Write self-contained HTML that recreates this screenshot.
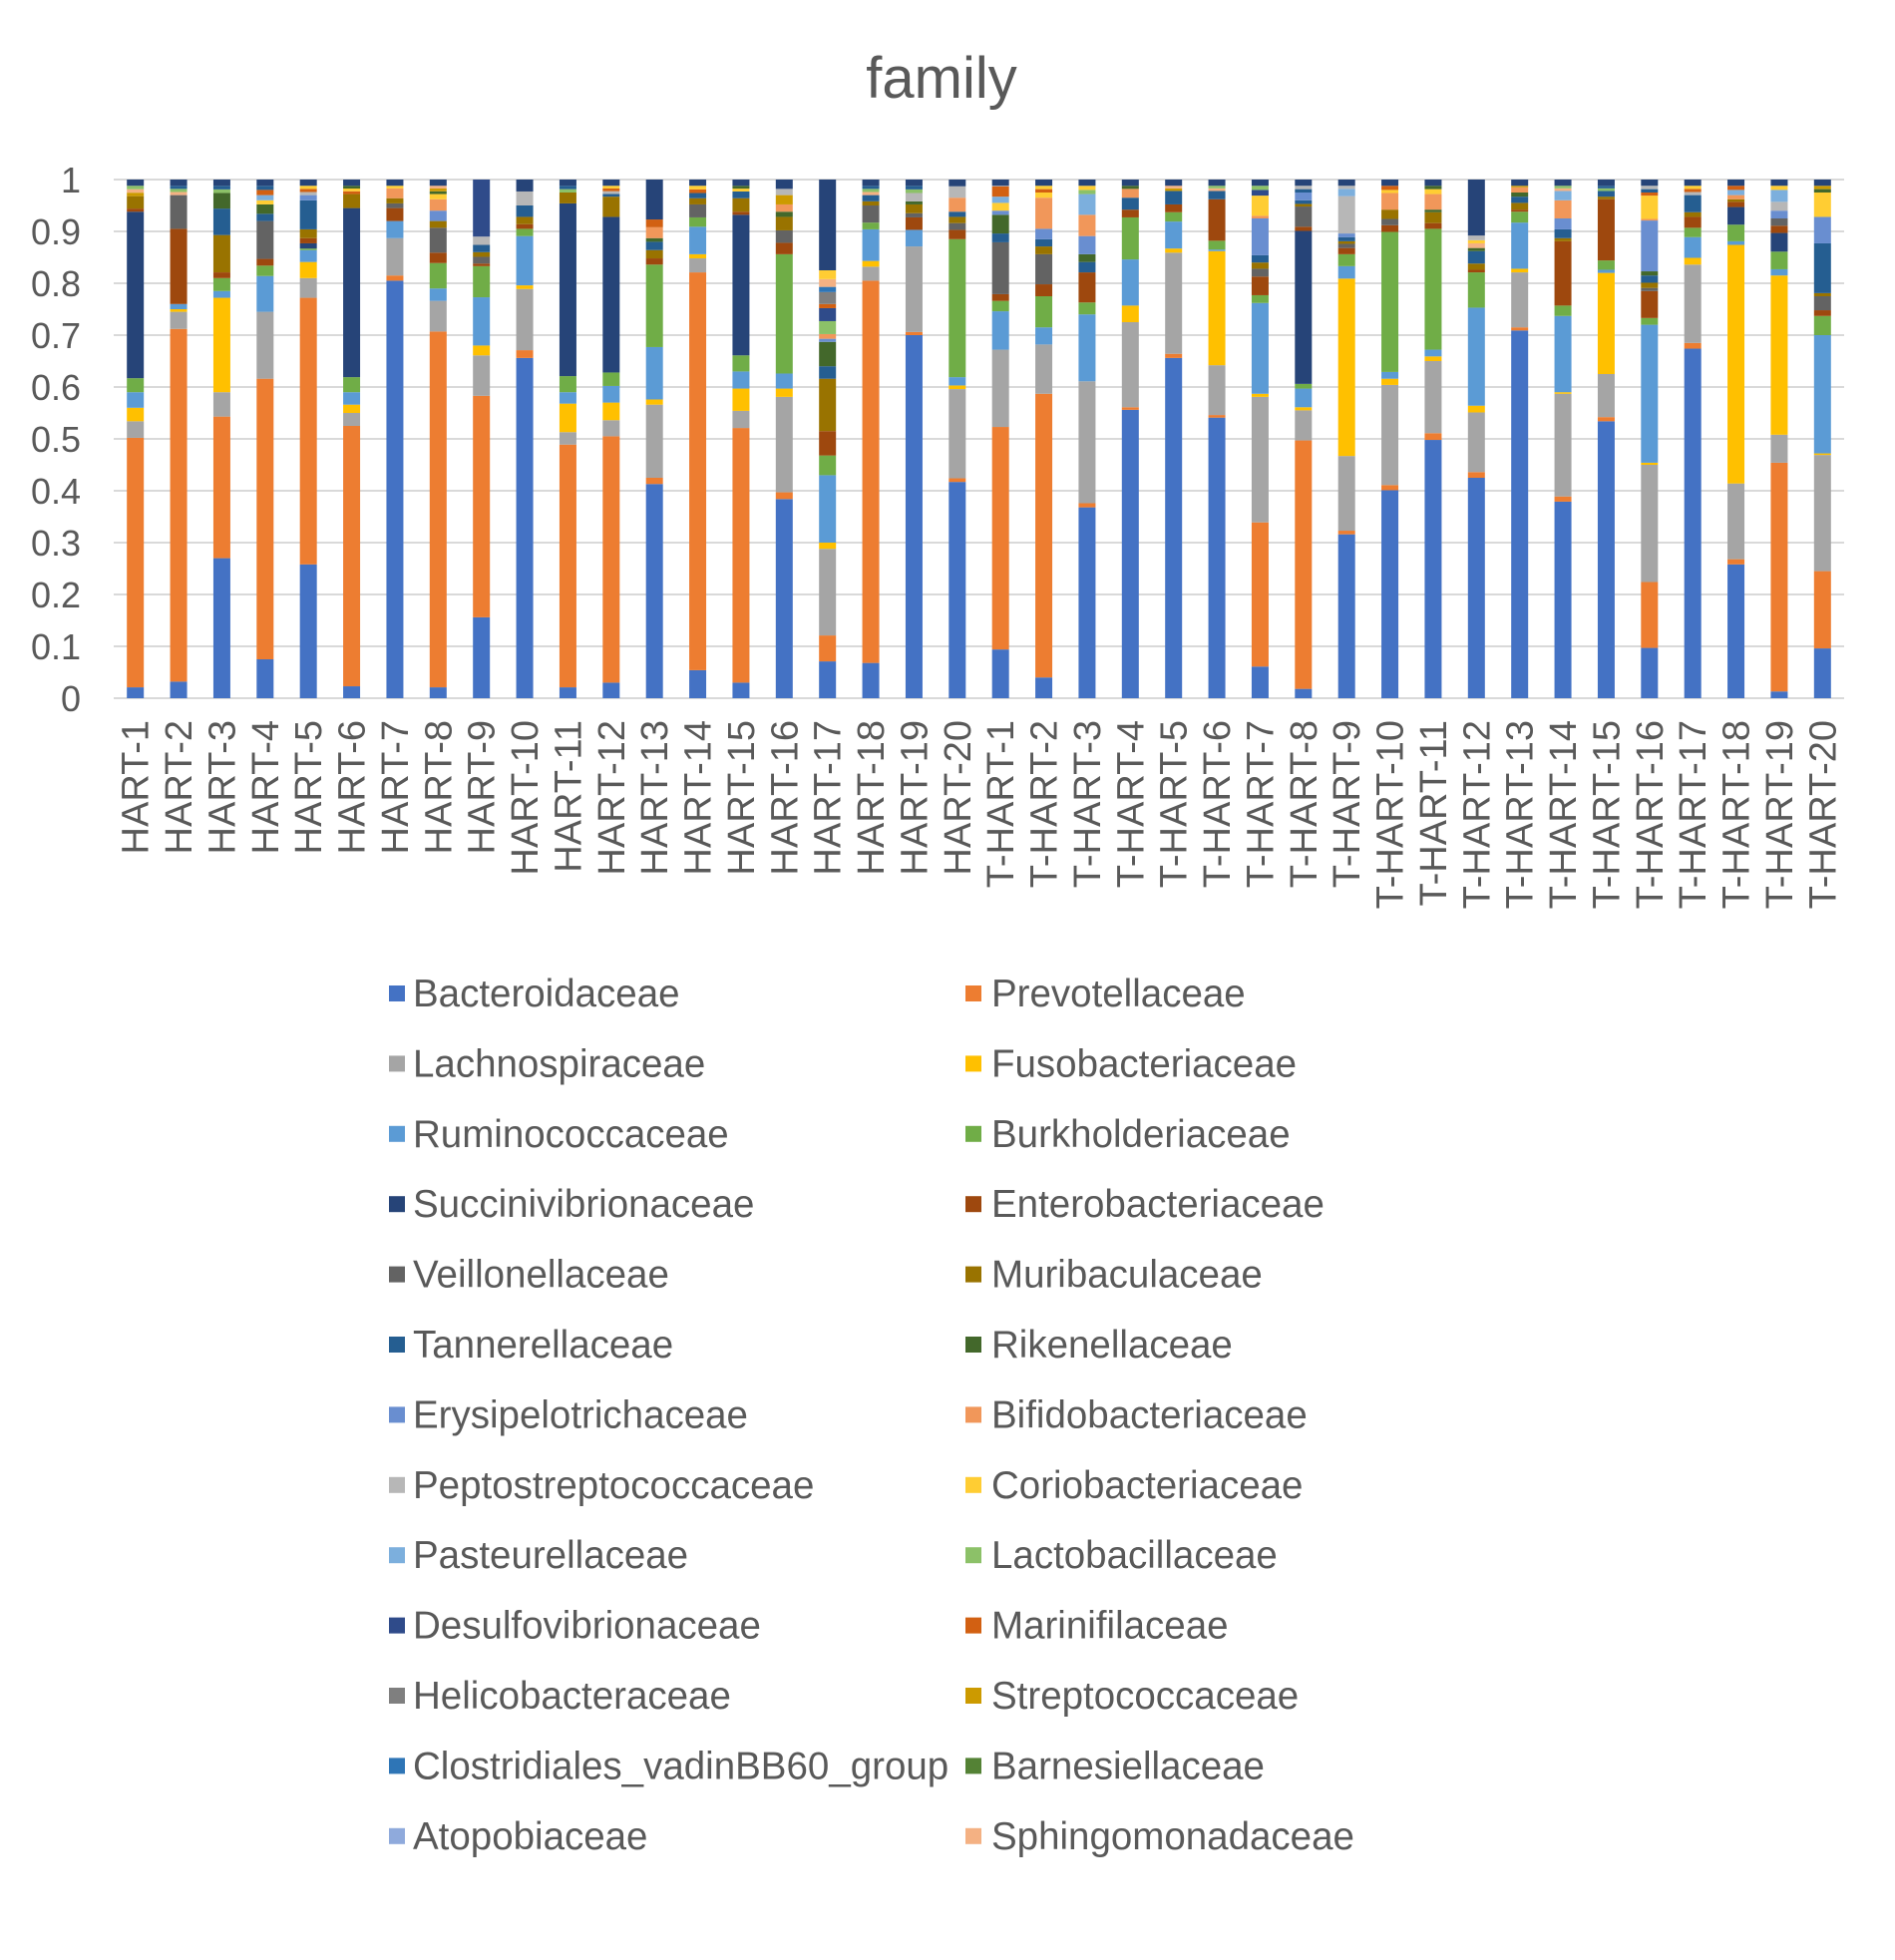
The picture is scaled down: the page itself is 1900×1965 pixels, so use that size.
<!DOCTYPE html>
<html><head><meta charset="utf-8"><style>
html,body{margin:0;padding:0;background:#fff;}
svg text{font-family:"Liberation Sans",sans-serif;fill:#595959;}
</style></head><body>
<svg id="s" width="1900" height="1960" xmlns="http://www.w3.org/2000/svg"></svg>
<script>
const C={Bac:"#4472C4",Prev:"#ED7D31",Lach:"#A5A5A5",Fuso:"#FFC000",Rum:"#5B9BD5",Burk:"#70AD47",Succ:"#264478",Ent:"#9E480E",Veil:"#636363",Muri:"#997300",Tann:"#255E91",Rik:"#43682B",Erys:"#698ED0",Bifi:"#F1975A",Pep:"#B7B7B7",Cor:"#FFCD33",Past:"#7CAFDD",Lac:"#8CC168",Des:"#2F4B8A",Mar:"#D26012",Hel:"#7F7F7F",Str:"#CC9A00",Clo:"#2E75B6",Bar:"#548235",Ato:"#8FAADC",Sph:"#F4B183"};
const D=[
["HART-1",[["Bac",.021],["Prev",.502],["Lach",.534],["Fuso",.56],["Rum",.59],["Burk",.617],["Succ",.938],["Ent",.944],["Muri",.968]]],
["HART-2",[["Bac",.032],["Prev",.712],["Lach",.745],["Fuso",.75],["Rum",.76],["Ent",.905],["Veil",.97]]],
["HART-3",[["Bac",.27],["Prev",.543],["Lach",.59],["Fuso",.772],["Rum",.785],["Burk",.81],["Ent",.821],["Muri",.893],["Tann",.944],["Rik",.974]]],
["HART-4",[["Bac",.075],["Prev",.616],["Lach",.745],["Rum",.814],["Burk",.834],["Ent",.847],["Veil",.92],["Tann",.934],["Rik",.952],["Cor",.96],["Past",.97],["Mar",.98]]],
["HART-5",[["Bac",.258],["Prev",.772],["Lach",.81],["Fuso",.841],["Rum",.864],["Burk",.867],["Succ",.877],["Ent",.887],["Muri",.904],["Tann",.96],["Erys",.97]]],
["HART-6",[["Bac",.023],["Prev",.525],["Lach",.55],["Fuso",.566],["Rum",.59],["Burk",.619],["Succ",.945],["Muri",.972]]],
["HART-7",[["Bac",.805],["Prev",.815],["Lach",.887],["Rum",.92],["Ent",.945],["Veil",.954],["Muri",.964],["Bifi",.983]]],
["HART-8",[["Bac",.021],["Prev",.707],["Lach",.766],["Rum",.79],["Burk",.839],["Ent",.859],["Veil",.907],["Muri",.92],["Erys",.94],["Bifi",.962],["Cor",.972]]],
["HART-9",[["Bac",.156],["Prev",.583],["Lach",.661],["Fuso",.68],["Rum",.773],["Burk",.833],["Ent",.838],["Veil",.851],["Muri",.86],["Tann",.874],["Pep",.89],["Des",1]]],
["HART-10",[["Bac",.656],["Prev",.671],["Lach",.789],["Fuso",.796],["Rum",.891],["Burk",.905],["Ent",.914],["Muri",.928],["Tann",.95],["Pep",.977],["Succ",1]]],
["HART-11",[["Bac",.021],["Prev",.489],["Lach",.513],["Fuso",.568],["Rum",.59],["Burk",.621],["Succ",.954],["Muri",.975]]],
["HART-12",[["Bac",.03],["Prev",.505],["Lach",.536],["Fuso",.57],["Rum",.602],["Burk",.628],["Succ",.928],["Muri",.967]]],
["HART-13",[["Bac",.413],["Prev",.425],["Lach",.566],["Fuso",.576],["Rum",.677],["Burk",.836],["Ent",.848],["Muri",.864],["Tann",.88],["Rik",.887],["Bifi",.908],["Mar",.923],["Succ",1]]],
["HART-14",[["Bac",.054],["Prev",.821],["Lach",.848],["Fuso",.856],["Rum",.909],["Burk",.927],["Veil",.952],["Muri",.964],["Tann",.974]]],
["HART-15",[["Bac",.03],["Prev",.521],["Lach",.554],["Fuso",.597],["Rum",.63],["Burk",.661],["Succ",.932],["Ent",.938],["Muri",.964],["Tann",.977]]],
["HART-16",[["Bac",.384],["Prev",.397],["Lach",.581],["Fuso",.597],["Rum",.626],["Burk",.856],["Ent",.878],["Veil",.902],["Muri",.928],["Rik",.938],["Bifi",.952],["Str",.97],["Pep",.982],["Succ",1]]],
["HART-17",[["Bac",.071],["Prev",.121],["Lach",.288],["Fuso",.3],["Rum",.43],["Burk",.468],["Ent",.515],["Muri",.616],["Tann",.64],["Rik",.687],["Erys",.693],["Bifi",.702],["Lac",.727],["Des",.752],["Mar",.76],["Hel",.783],["Clo",.793],["Sph",.808],["Cor",.825],["Succ",1]]],
["HART-18",[["Bac",.068],["Prev",.805],["Lach",.832],["Fuso",.843],["Rum",.904],["Burk",.917],["Veil",.95],["Muri",.958],["Tann",.97]]],
["HART-19",[["Bac",.7],["Prev",.706],["Lach",.871],["Rum",.903],["Ent",.927],["Veil",.935],["Muri",.952],["Rik",.958],["Pep",.974]]],
["HART-20",[["Bac",.417],["Prev",.424],["Lach",.596],["Fuso",.603],["Rum",.619],["Burk",.885],["Ent",.903],["Veil",.916],["Muri",.928],["Tann",.938],["Bifi",.965],["Pep",.987],["Succ",1]]],
["T-HART-1",[["Bac",.094],["Prev",.523],["Lach",.672],["Rum",.746],["Burk",.766],["Ent",.779],["Veil",.879],["Tann",.896],["Rik",.932],["Erys",.94],["Cor",.955],["Past",.967],["Mar",.987]]],
["T-HART-2",[["Bac",.04],["Prev",.587],["Lach",.682],["Rum",.715],["Burk",.775],["Ent",.798],["Veil",.856],["Muri",.871],["Tann",.885],["Erys",.905],["Bifi",.965],["Cor",.975]]],
["T-HART-3",[["Bac",.368],["Prev",.376],["Lach",.611],["Rum",.74],["Burk",.763],["Ent",.821],["Tann",.841],["Rik",.856],["Erys",.891],["Bifi",.932],["Past",.972],["Lac",.98]]],
["T-HART-4",[["Bac",.556],["Prev",.561],["Lach",.725],["Fuso",.757],["Rum",.846],["Burk",.927],["Ent",.942],["Tann",.965],["Bifi",.982]]],
["T-HART-5",[["Bac",.656],["Prev",.664],["Lach",.859],["Fuso",.867],["Rum",.919],["Burk",.937],["Ent",.952],["Tann",.978]]],
["T-HART-6",[["Bac",.541],["Prev",.546],["Lach",.642],["Fuso",.862],["Rum",.865],["Burk",.882],["Ent",.962],["Tann",.978]]],
["T-HART-7",[["Bac",.061],["Prev",.339],["Lach",.581],["Fuso",.587],["Rum",.762],["Burk",.777],["Ent",.813],["Veil",.828],["Muri",.84],["Tann",.854],["Erys",.925],["Bifi",.93],["Cor",.969],["Des",.98]]],
["T-HART-8",[["Bac",.018],["Prev",.497],["Lach",.555],["Fuso",.561],["Rum",.597],["Burk",.606],["Succ",.901],["Ent",.909],["Veil",.948],["Muri",.953],["Tann",.96],["Erys",.975]]],
["T-HART-9",[["Bac",.316],["Prev",.323],["Lach",.467],["Fuso",.809],["Rum",.833],["Burk",.856],["Ent",.868],["Veil",.876],["Muri",.881],["Tann",.889],["Erys",.896],["Pep",.968],["Past",.982]]],
["T-HART-10",[["Bac",.401],["Prev",.411],["Lach",.604],["Fuso",.616],["Rum",.629],["Burk",.899],["Ent",.912],["Veil",.924],["Muri",.942],["Bifi",.974],["Cor",.98]]],
["T-HART-11",[["Bac",.498],["Prev",.511],["Lach",.65],["Fuso",.659],["Rum",.672],["Burk",.905],["Ent",.916],["Muri",.937],["Rik",.942],["Bifi",.972],["Cor",.975]]],
["T-HART-12",[["Bac",.425],["Prev",.436],["Lach",.551],["Fuso",.564],["Rum",.753],["Burk",.821],["Ent",.826],["Muri",.838],["Tann",.862],["Rik",.868],["Sph",.877],["Cor",.883],["Pep",.892],["Succ",1]]],
["T-HART-13",[["Bac",.709],["Prev",.715],["Lach",.821],["Fuso",.828],["Rum",.917],["Burk",.938],["Ent",.942],["Muri",.955],["Tann",.967],["Rik",.975],["Bifi",.985]]],
["T-HART-14",[["Bac",.379],["Prev",.389],["Lach",.587],["Fuso",.59],["Rum",.737],["Burk",.757],["Ent",.881],["Muri",.887],["Tann",.904],["Erys",.925],["Bifi",.96],["Past",.978]]],
["T-HART-15",[["Bac",.534],["Prev",.542],["Lach",.625],["Fuso",.82],["Rum",.826],["Burk",.844],["Ent",.962],["Muri",.967],["Tann",.978]]],
["T-HART-16",[["Bac",.097],["Prev",.224],["Lach",.45],["Fuso",.454],["Rum",.72],["Burk",.733],["Ent",.785],["Veil",.791],["Muri",.801],["Tann",.815],["Rik",.823],["Erys",.921],["Bifi",.924],["Cor",.969],["Mar",.975]]],
["T-HART-17",[["Bac",.674],["Prev",.685],["Lach",.836],["Fuso",.849],["Rum",.889],["Burk",.907],["Ent",.928],["Muri",.937],["Tann",.97]]],
["T-HART-18",[["Bac",.258],["Prev",.268],["Lach",.414],["Fuso",.874],["Rum",.881],["Burk",.913],["Succ",.947],["Ent",.957],["Muri",.962],["Bifi",.97],["Past",.98]]],
["T-HART-19",[["Bac",.013],["Prev",.454],["Lach",.508],["Fuso",.815],["Rum",.827],["Burk",.861],["Succ",.897],["Ent",.911],["Veil",.925],["Erys",.94],["Pep",.957],["Past",.98]]],
["T-HART-20",[["Bac",.096],["Prev",.245],["Lach",.469],["Fuso",.472],["Rum",.7],["Burk",.737],["Ent",.748],["Veil",.775],["Muri",.781],["Tann",.877],["Erys",.928],["Cor",.975]]]
];
const NS="http://www.w3.org/2000/svg",s=document.getElementById("s");
function el(t,a,txt){const e=document.createElementNS(NS,t);for(const k in a)e.setAttribute(k,a[k]);if(txt!==undefined)e.textContent=txt;s.appendChild(e);return e;}
const Y0=700,H=520,X0=114,X1=1849,step=(X1-X0)/40,BW=17;
const Y=v=>Y0-H*v;
el("text",{x:944,y:98,"font-size":58,"text-anchor":"middle"},"family");
for(let i=0;i<=10;i++){const v=i/10;el("line",{x1:X0,x2:X1,y1:Y(v),y2:Y(v),stroke:"#D9D9D9","stroke-width":2});
el("text",{x:81,y:Y(v)+13,"font-size":36,"text-anchor":"end"},i==0?"0":i==10?"1":v.toFixed(1));}
const fill=["Rik","Str","Sph","Lac","Tann","Pep","Mar","Cor"];
D.forEach((d,i)=>{const cx=X0+step*(i+0.5),x=cx-BW/2;let prev=0;let segs=d[1].slice();
let last=segs[segs.length-1][1];
if(last<1){const top=1-0.012;let rem=top-last;let n=Math.max(1,Math.round(rem/0.006));
for(let j=1;j<=n;j++){segs.push([fill[(i+j)%fill.length],last+rem*j/n]);}segs.push(["Succ",1]);}
segs.forEach(([c,t])=>{if(t>prev)el("rect",{x:x,y:Y(t),width:BW,height:(t-prev)*H,fill:C[c]});prev=t;});
el("text",{x:0,y:0,"font-size":38,"text-anchor":"end",transform:`translate(${cx+13},722) rotate(-90)`},d[0]);});
const L=[["Bac","Bacteroidaceae"],["Prev","Prevotellaceae"],["Lach","Lachnospiraceae"],["Fuso","Fusobacteriaceae"],["Rum","Ruminococcaceae"],["Burk","Burkholderiaceae"],["Succ","Succinivibrionaceae"],["Ent","Enterobacteriaceae"],["Veil","Veillonellaceae"],["Muri","Muribaculaceae"],["Tann","Tannerellaceae"],["Rik","Rikenellaceae"],["Erys","Erysipelotrichaceae"],["Bifi","Bifidobacteriaceae"],["Pep","Peptostreptococcaceae"],["Cor","Coriobacteriaceae"],["Past","Pasteurellaceae"],["Lac","Lactobacillaceae"],["Des","Desulfovibrionaceae"],["Mar","Marinifilaceae"],["Hel","Helicobacteraceae"],["Str","Streptococcaceae"],["Clo","Clostridiales_vadinBB60_group"],["Bar","Barnesiellaceae"],["Ato","Atopobiaceae"],["Sph","Sphingomonadaceae"]];
L.forEach((l,i)=>{const r=Math.floor(i/2),c=i%2,yc=996+r*70.4,mx=c?968:390,tx=c?994:414;
el("rect",{x:mx,y:yc-8,width:16,height:16,fill:C[l[0]]});
el("text",{x:tx,y:yc+13,"font-size":38.5},l[1]);});
</script>
</body></html>
